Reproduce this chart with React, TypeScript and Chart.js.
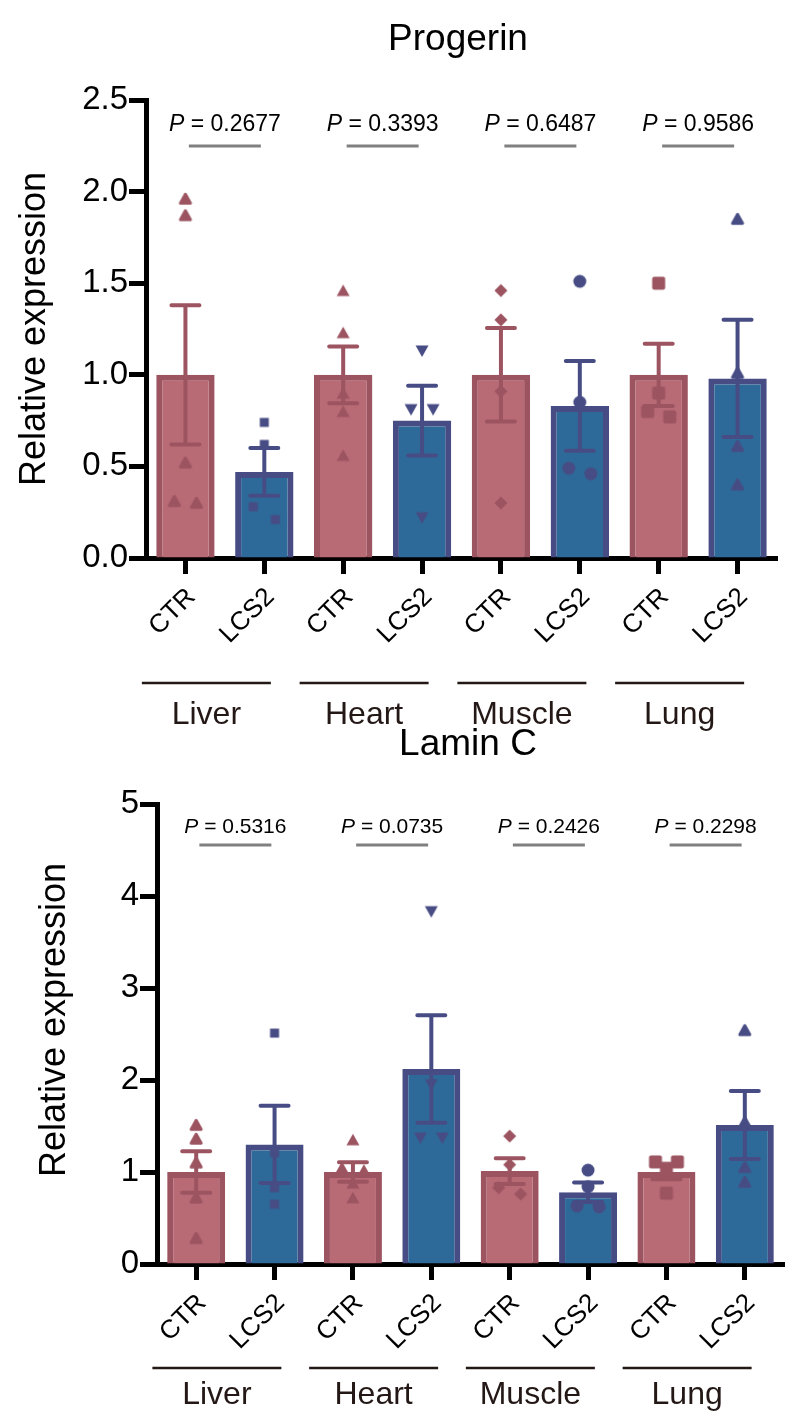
import React, { useEffect, useRef } from "react";
import { Chart, registerables } from "chart.js";

Chart.register(...registerables);

const FONT = '"Liberation Sans", Arial, Helvetica, sans-serif';

// ---------------- data ----------------
const groups = ["Liver", "Heart", "Muscle", "Lung"];
const conditions = ["CTR", "LCS2"];
const categoryLabels = groups.flatMap(() => conditions);

// Progerin
const progerinMean = [1.0, 0.47, 1.0, 0.75, 1.0, 0.83, 1.0, 0.98];
const progerinSem = [0.38, 0.13, 0.155, 0.19, 0.255, 0.245, 0.17, 0.32];
const progerinPoints = [
  [1.96, 1.87, 0.52, 0.31, 0.3],
  [0.74, 0.62, 0.28, 0.21],
  [1.46, 1.23, 0.9, 0.8, 0.56],
  [1.13, 0.81, 0.81, 0.22],
  [1.46, 1.3, 0.91, 0.3],
  [1.51, 0.85, 0.49, 0.46],
  [1.5, 0.9, 0.8, 0.77],
  [1.85, 1.01, 0.61, 0.4],
];
const progerinP = ["0.2677", "0.3393", "0.6487", "0.9586"];
const progerinTicks = [0, 0.5, 1.0, 1.5, 2.0, 2.5];

// Lamin C
const laminMean = [1.0, 1.3, 1.0, 2.12, 1.01, 0.78, 1.0, 1.51];
const laminSem = [0.225, 0.42, 0.105, 0.585, 0.14, 0.105, 0.08, 0.37];
const laminPoints = [
  [1.51, 1.36, 1.1, 0.72, 0.28],
  [2.51, 1.21, 0.83, 0.65],
  [1.35, 1.05, 1.02, 0.88, 0.72],
  [3.83, 1.95, 1.37, 1.37],
  [1.39, 1.08, 0.83, 0.76],
  [1.02, 0.84, 0.63, 0.62],
  [1.11, 1.11, 1.04, 0.77],
  [2.54, 1.54, 1.05, 0.89],
];
const laminP = ["0.5316", "0.0735", "0.2426", "0.2298"];
const laminTicks = [0, 1, 2, 3, 4, 5];

// ---------------- styles ----------------
const markerShapes = [
  "roundTriangle",
  "square",
  "triangle",
  "downTriangle",
  "diamond",
  "circle",
  "roundSquare",
  "roundTriangle",
];
const CTR_FILL = "#b86a75";
const CTR_EDGE = "#9c5461";
const LCS_FILL = "#2e6a99";
const LCS_EDGE = "#474d84";

function makeMarker(shape: string, color: string): HTMLCanvasElement {
  const c = document.createElement("canvas");
  const s = 18;
  c.width = s;
  c.height = s;
  const g = c.getContext("2d") as CanvasRenderingContext2D;
  g.fillStyle = color;
  g.strokeStyle = color;
  g.lineJoin = "round";
  const m = s / 2;
  g.beginPath();
  switch (shape) {
    case "triangle":
      g.moveTo(m, m - 6);
      g.lineTo(m + 6.5, m + 5.5);
      g.lineTo(m - 6.5, m + 5.5);
      g.closePath();
      g.fill();
      break;
    case "downTriangle":
      g.moveTo(m, m + 6);
      g.lineTo(m + 6.5, m - 5.5);
      g.lineTo(m - 6.5, m - 5.5);
      g.closePath();
      g.fill();
      break;
    case "roundTriangle":
      g.lineWidth = 3;
      g.moveTo(m, m - 4.8);
      g.lineTo(m + 5, m + 4.2);
      g.lineTo(m - 5, m + 4.2);
      g.closePath();
      g.fill();
      g.stroke();
      break;
    case "square":
      g.fillRect(m - 4.5, m - 4.5, 9, 9);
      break;
    case "diamond":
      g.moveTo(m, m - 6.5);
      g.lineTo(m + 6.5, m);
      g.lineTo(m, m + 6.5);
      g.lineTo(m - 6.5, m);
      g.closePath();
      g.fill();
      break;
    case "circle":
      g.arc(m, m, 6.5, 0, Math.PI * 2);
      g.fill();
      break;
    case "roundSquare":
      g.lineWidth = 4;
      g.rect(m - 4.5, m - 4.5, 9, 9);
      g.fill();
      g.stroke();
      break;
  }
  return c;
}

// spread points that sit at nearly the same height
function jitter(values: number[], pxPerUnit: number, thresholdPx: number, step: number): number[] {
  const idx = values.map((_, i) => i).sort((a, b) => values[b] - values[a]);
  const offsets = new Array(values.length).fill(0);
  let cluster: number[] = [idx[0]];
  const flush = () => {
    const n = cluster.length;
    if (n === 2) {
      offsets[cluster[0]] = -step;
      offsets[cluster[1]] = step;
    } else if (n === 3) {
      offsets[cluster[0]] = -step;
      offsets[cluster[1]] = step;
      offsets[cluster[2]] = 0;
    } else if (n > 3) {
      cluster.forEach((k, j) => (offsets[k] = (j - (n - 1) / 2) * step));
    }
  };
  for (let j = 1; j < idx.length; j++) {
    const prev = idx[j - 1];
    const cur = idx[j];
    if ((values[prev] - values[cur]) * pxPerUnit < thresholdPx) cluster.push(cur);
    else {
      flush();
      cluster = [cur];
    }
  }
  flush();
  return offsets;
}

type Spec = {
  title: string;
  mean: number[];
  sem: number[];
  points: number[][];
  pvals: string[];
  ticks: number[];
  decimals: number;
  canvasTop: number;
  canvasH: number;
  area: { left: number; right: number; top: number; bottom: number };
  titleX: number;
  titleY: number;
  titleSize: number;
  yTitleX: number;
  yTitleY: number;
  pY: number;
  pLineY: number;
  pSize: number;
  groupLineY: number;
  groupLabelY: number;
};

const specs: Spec[] = [
  {
    title: "Progerin",
    mean: progerinMean,
    sem: progerinSem,
    points: progerinPoints,
    pvals: progerinP,
    ticks: progerinTicks,
    decimals: 1,
    canvasTop: 0,
    canvasH: 740,
    area: { left: 146, right: 777, top: 100, bottom: 558 },
    titleX: 458,
    titleY: 40,
    titleSize: 37,
    yTitleX: 35,
    yTitleY: 329,
    pY: 125,
    pLineY: 146,
    pSize: 23,
    groupLineY: 683,
    groupLabelY: 715,
  },
  {
    title: "Lamin C",
    mean: laminMean,
    sem: laminSem,
    points: laminPoints,
    pvals: laminP,
    ticks: laminTicks,
    decimals: 0,
    canvasTop: 710,
    canvasH: 717,
    area: { left: 157, right: 784, top: 804, bottom: 1264 },
    titleX: 468,
    titleY: 745,
    titleSize: 37,
    yTitleX: 55,
    yTitleY: 1020,
    pY: 827,
    pLineY: 845,
    pSize: 21,
    groupLineY: 1368,
    groupLabelY: 1395,
  },
];

function buildChart(canvas: HTMLCanvasElement, spec: Spec): Chart {
  const top = spec.canvasTop;
  const area = spec.area;
  const yMin = spec.ticks[0];
  const yMax = spec.ticks[spec.ticks.length - 1];
  const pxPerUnit = (area.bottom - area.top) / (yMax - yMin);
  const xScaleHeight = 100;

  const barColors = categoryLabels.map((_, i) => (i % 2 === 0 ? CTR_FILL : LCS_FILL));
  const edgeColors = categoryLabels.map((_, i) => (i % 2 === 0 ? CTR_EDGE : LCS_EDGE));

  // individual points: placed on the category axis (index + small spread)
  const scatterSets = spec.points.map((vals, i) => {
    const offs = jitter(vals, pxPerUnit, 13.3, 0.14);
    return {
      type: "scatter" as const,
      xAxisID: "x",
      yAxisID: "y",
      order: 0,
      parsing: false,
      normalized: true,
      data: vals.map((v, k) => ({ x: i + offs[k], y: v })),
      pointStyle: makeMarker(markerShapes[i], edgeColors[i]),
      pointRadius: 7,
      pointHoverRadius: 7,
    };
  });

  const annotate = {
    id: "annotate",
    afterDatasetsDraw(chart: any) {
      const ctx = chart.ctx as CanvasRenderingContext2D;
      const xs = chart.scales.x;
      const ys = chart.scales.y;
      ctx.save();
      ctx.lineCap = "round";
      spec.mean.forEach((m, i) => {
        const x = xs.getPixelForValue(i);
        const yT = ys.getPixelForValue(m + spec.sem[i]);
        const yB = ys.getPixelForValue(m - spec.sem[i]);
        ctx.strokeStyle = edgeColors[i];
        ctx.lineWidth = 4;
        ctx.beginPath();
        ctx.moveTo(x, yT);
        ctx.lineTo(x, yB);
        ctx.moveTo(x - 14, yT);
        ctx.lineTo(x + 14, yT);
        ctx.moveTo(x - 14, yB);
        ctx.lineTo(x + 14, yB);
        ctx.stroke();
      });
      ctx.restore();
    },
    afterDraw(chart: any) {
      const ctx = chart.ctx as CanvasRenderingContext2D;
      const xs = chart.scales.x;
      ctx.save();
      ctx.fillStyle = "#000";
      ctx.textBaseline = "middle";
      // title
      ctx.textAlign = "center";
      ctx.font = `${spec.titleSize}px ${FONT}`;
      ctx.fillText(spec.title, spec.titleX, spec.titleY - top);
      // y title
      ctx.save();
      ctx.translate(spec.yTitleX, spec.yTitleY - top);
      ctx.rotate(-Math.PI / 2);
      ctx.font = `36px ${FONT}`;
      ctx.fillText("Relative expression", 0, 0);
      ctx.restore();
      groups.forEach((g, gi) => {
        const x1 = xs.getPixelForValue(gi * 2);
        const x2 = xs.getPixelForValue(gi * 2 + 1);
        const mid = (x1 + x2) / 2;
        // P value
        const italic = `italic ${spec.pSize}px ${FONT}`;
        const normal = `${spec.pSize}px ${FONT}`;
        const rest = " = " + spec.pvals[gi];
        ctx.font = italic;
        const wP = ctx.measureText("P").width;
        ctx.font = normal;
        const wR = ctx.measureText(rest).width;
        const start = mid - (wP + wR) / 2;
        ctx.textAlign = "left";
        ctx.fillStyle = "#000";
        ctx.font = italic;
        ctx.fillText("P", start, spec.pY - top);
        ctx.font = normal;
        ctx.fillText(rest, start + wP, spec.pY - top);
        ctx.strokeStyle = "#808080";
        ctx.lineWidth = 3;
        ctx.lineCap = "butt";
        ctx.beginPath();
        ctx.moveTo(mid - 36, spec.pLineY - top);
        ctx.lineTo(mid + 36, spec.pLineY - top);
        ctx.stroke();
        // group line + label
        const gl = mid - 83;
        const gr = mid + 46;
        ctx.strokeStyle = "#231815";
        ctx.lineWidth = 2.5;
        ctx.beginPath();
        ctx.moveTo(gl, spec.groupLineY - top);
        ctx.lineTo(gr, spec.groupLineY - top);
        ctx.stroke();
        ctx.fillStyle = "#231815";
        ctx.textAlign = "center";
        ctx.font = `32px ${FONT}`;
        ctx.fillText(g, (gl + gr) / 2, spec.groupLabelY - top);
      });
      ctx.restore();
    },
  };

  return new Chart(canvas, {
    type: "bar",
    data: {
      labels: categoryLabels,
      datasets: [
        {
          type: "bar",
          order: 1,
          data: spec.mean,
          backgroundColor: barColors,
          borderColor: edgeColors,
          borderWidth: 6,
          borderSkipped: "start",
          grouped: false,
          barPercentage: 0.74,
          categoryPercentage: 1,
          xAxisID: "x",
          yAxisID: "y",
        } as any,
        ...(scatterSets as any[]),
      ],
    },
    options: {
      responsive: false,
      animation: false,
      events: [],
      layout: {
        padding: {
          left: 0,
          top: area.top - top,
          right: 800 - area.right,
          bottom: spec.canvasH - (area.bottom - top) - xScaleHeight,
        },
      },
      plugins: {
        legend: { display: false },
        tooltip: { enabled: false },
        title: { display: false },
      },
      scales: {
        x: {
          type: "category",
          offset: true,
          position: "bottom",
          min: 0,
          max: categoryLabels.length - 1,
          afterFit: (s: any) => {
            s.height = xScaleHeight;
          },
          grid: {
            offset: false,
            drawOnChartArea: false,
            drawTicks: true,
            tickLength: 16,
            tickWidth: 5,
            tickColor: "#000",
          },
          border: { display: true, width: 5, color: "#000" },
          ticks: {
            autoSkip: false,
            maxRotation: 45,
            minRotation: 45,
            padding: 8,
            labelOffset: 6,
            color: "#000",
            font: { family: FONT, size: 26 },
          },
        },
        y: {
          type: "linear",
          position: "left",
          min: yMin,
          max: yMax,
          afterFit: (s: any) => {
            s.width = area.left;
          },
          afterBuildTicks: (s: any) => {
            s.ticks = spec.ticks.map((v) => ({ value: v }));
          },
          grid: {
            drawOnChartArea: false,
            drawTicks: true,
            tickLength: 17,
            tickWidth: 5,
            tickColor: "#000",
          },
          border: { display: true, width: 5, color: "#000" },
          ticks: {
            padding: 1,
            color: "#000",
            font: { family: FONT, size: 33 },
            callback: (v: any) => Number(v).toFixed(spec.decimals),
          },
        },
      },
    } as any,
    plugins: [annotate],
  });
}

export default function App() {
  const ref1 = useRef<HTMLCanvasElement>(null);
  const ref2 = useRef<HTMLCanvasElement>(null);

  useEffect(() => {
    const charts: Chart[] = [];
    if (ref1.current) charts.push(buildChart(ref1.current, specs[0]));
    if (ref2.current) charts.push(buildChart(ref2.current, specs[1]));
    return () => charts.forEach((c) => c.destroy());
  }, []);

  return (
    <div
      style={{
        position: "absolute",
        left: 0,
        top: 0,
        width: 800,
        height: 1427,
        background: "#fff",
        overflow: "hidden",
      }}
    >
      <canvas
        ref={ref1}
        width={800}
        height={specs[0].canvasH}
        style={{ position: "absolute", left: 0, top: specs[0].canvasTop, width: 800, height: specs[0].canvasH }}
      />
      <canvas
        ref={ref2}
        width={800}
        height={specs[1].canvasH}
        style={{ position: "absolute", left: 0, top: specs[1].canvasTop, width: 800, height: specs[1].canvasH }}
      />
    </div>
  );
}
